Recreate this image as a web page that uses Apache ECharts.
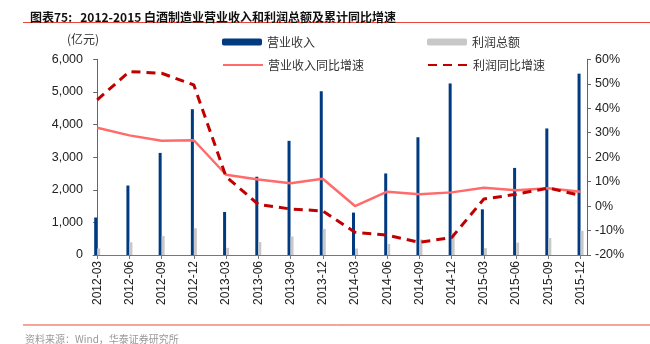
<!DOCTYPE html>
<html><head><meta charset="utf-8">
<script src="https://cdn.jsdelivr.net/npm/echarts@6/dist/echarts.min.js"></script>
<style>html,body{margin:0;padding:0;background:#fff}#c{width:650px;height:344px}</style>
</head><body><div id="c"></div>
<script>
const categories = ['2012-03','2012-06','2012-09','2012-12','2013-03','2013-06','2013-09','2013-12','2014-03','2014-06','2014-09','2014-12','2015-03','2015-06','2015-09','2015-12'];
const revenue = [1150,2130,3130,4470,1320,2400,3500,5020,1300,2500,3610,5260,1400,2670,3880,5560];
const profit = [200,390,580,820,220,400,570,800,200,340,480,680,210,380,520,740];
const revenueGrowth = [32.0,28.9,26.7,26.9,12.8,10.9,9.3,11.2,0.0,5.9,4.8,5.6,7.5,6.5,7.3,5.9];
const profitGrowth = [43.4,55.0,54.3,49.5,12.0,0.7,-1.2,-2.0,-10.7,-11.9,-14.8,-12.9,2.9,4.8,7.4,4.3];
const leftTicks = [0,1000,2000,3000,4000,5000,6000];
const rightTicks = [-20,-10,0,10,20,30,40,50,60];

const idx = categories.map((_, i) => i);
const pair = arr => arr.map((v, i) => [i, v]);
const font = '"Liberation Sans", Arial, sans-serif';
const cjk = '"Noto Sans CJK SC", sans-serif';

const chart = echarts.init(document.getElementById('c'), null, {renderer: 'canvas'});
const legendBase = {orient: 'horizontal', itemWidth: 40, itemHeight: 7, textStyle: {fontFamily: cjk, fontSize: 12, color: '#333'}, padding: 0, selectedMode: false};
const lineLegend = {itemHeight: 10, itemStyle: {opacity: 0, borderWidth: 0}};
chart.setOption({
  animation: false,
  grid: {left: 93, right: 63, top: 59.3, bottom: 89, containLabel: false},
  title: {text: '图表75:   2012-2015 白酒制造业营业收入和利润总额及累计同比增速', left: 25, top: 6, textStyle: {fontFamily: cjk, fontSize: 12, fontWeight: 'bold', color: '#111'}},
  legend: [
    Object.assign({}, legendBase, {data: ['营业收入'], left: 222, top: 36}),
    Object.assign({}, legendBase, {data: ['利润总额'], left: 427, top: 36}),
    Object.assign({}, legendBase, lineLegend, {data: ['营业收入同比增速'], left: 222, top: 59}),
    Object.assign({}, legendBase, lineLegend, {data: ['利润同比增速'], left: 427, top: 59})
  ],
  graphic: [
    {type: 'line', shape: {x1: 23, y1: 22.5, x2: 650, y2: 22.5}, style: {stroke: '#E8473B', lineWidth: 1}},
    {type: 'line', shape: {x1: 23, y1: 325, x2: 650, y2: 325}, style: {stroke: '#E8473B', lineWidth: 1}},
    {type: 'text', left: 67, top: 33, style: {text: '(亿元)', font: '12px ' + cjk, fill: '#333'}},
    {type: 'text', left: 25, top: 334, style: {text: '资料来源：Wind，华泰证券研究所', font: '10px ' + cjk, fill: '#999'}}
  ],
  xAxis: {
    type: 'value', min: -0.13, max: 15.2,
    axisLine: {show: true, lineStyle: {color: '#777', width: 1}},
    axisTick: {show: true, customValues: idx, length: 4, lineStyle: {color: '#777'}},
    axisLabel: {customValues: idx, rotate: 90, formatter: v => categories[Math.round(v)], fontFamily: font, fontSize: 12, color: '#222', margin: 6},
    splitLine: {show: false}
  },
  yAxis: [
    {type: 'value', min: 0, max: 6000, interval: 1000,
     axisLine: {show: true, lineStyle: {color: '#666'}},
     axisTick: {show: true, length: 4, lineStyle: {color: '#666'}},
     axisLabel: {formatter: v => v.toLocaleString('en-US'), fontFamily: font, fontSize: 12.5, color: '#222', margin: 10},
     splitLine: {show: false}},
    {type: 'value', min: -20, max: 60, interval: 10,
     axisLine: {show: true, lineStyle: {color: '#666'}},
     axisTick: {show: true, length: 4, lineStyle: {color: '#666'}},
     axisLabel: {formatter: v => v + '%', fontFamily: font, fontSize: 12.5, color: '#222', margin: 8},
     splitLine: {show: false}}
  ],
  series: [
    {name: '营业收入', type: 'bar', data: pair(revenue), barWidth: 3, barGap: '0%', itemStyle: {color: '#003A80'}},
    {name: '利润总额', type: 'bar', data: pair(profit), barWidth: 3, barGap: '0%', itemStyle: {color: '#C8C8C8'}},
    {name: '营业收入同比增速', type: 'line', yAxisIndex: 1, data: pair(revenueGrowth), symbol: 'none', lineStyle: {color: '#FF6B6B', width: 2.5}, itemStyle: {color: '#FF6B6B'}},
    {name: '利润同比增速', type: 'line', yAxisIndex: 1, data: pair(profitGrowth), symbol: 'none', lineStyle: {color: '#C00000', width: 3, type: [9, 6]}, itemStyle: {color: '#C00000'}}
  ]
});
</script></body></html>
